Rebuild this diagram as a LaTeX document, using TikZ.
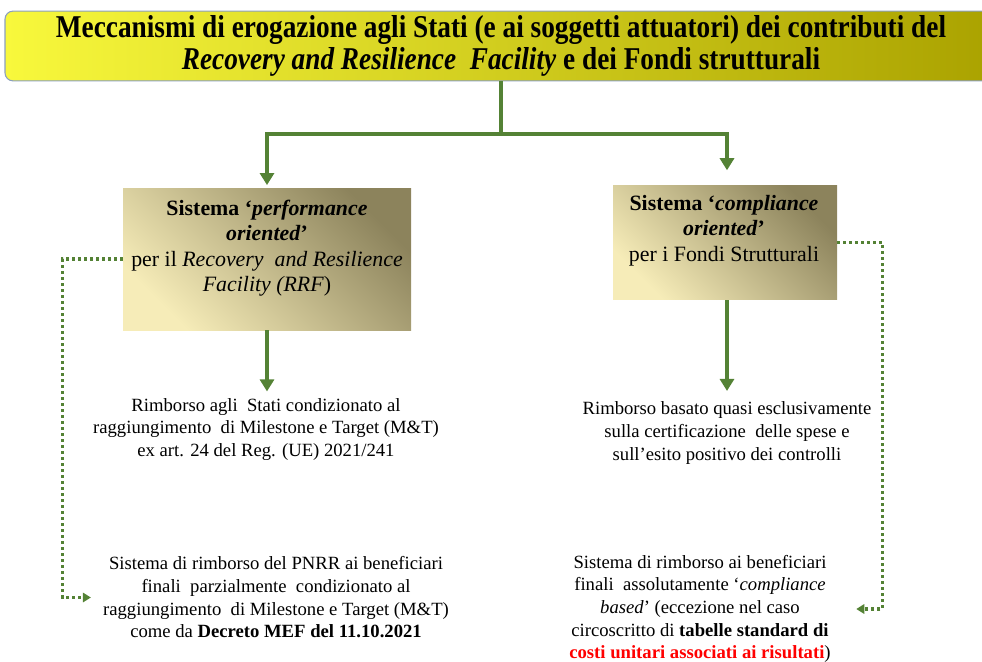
\documentclass[tikz,border=0pt]{standalone}
\usepackage{fontspec}
\setmainfont{Liberation Serif}
\newfontfamily\titlefont[FakeStretch=0.86]{Liberation Serif}
\usetikzlibrary{positioning,arrows.meta}
\definecolor{arrowgreen}{RGB}{84,130,53}
\definecolor{titleleft}{RGB}{248,248,60}
\definecolor{titlemid}{RGB}{238,234,0}
\definecolor{titleright}{RGB}{170,162,0}
\definecolor{titleedge}{RGB}{140,160,190}
\definecolor{boxlight}{RGB}{246,236,184}
\definecolor{boxdark}{RGB}{140,131,92}
\definecolor{notered}{RGB}{255,0,0}

\begin{document}
\begin{tikzpicture}[x=0.75pt, y=-0.75pt,
    titlebox/.style={rectangle, rounded corners=6pt, draw=titleedge, line width=0.8pt,
        left color=titleleft, middle color=titlemid, right color=titleright,
        minimum width=744pt, minimum height=51pt},
    sysbox/.style={rectangle, top color=boxdark, bottom color=boxlight, shading angle=-45},
    boxtext/.style={align=center, inner sep=0pt, font=\fontsize{16.4pt}{19pt}\selectfont},
    bodytext/.style={align=center, inner sep=0pt, font=\fontsize{14pt}{17pt}\selectfont},
    mainarrow/.style={draw=arrowgreen, line width=3pt, -{Triangle[width=10.5pt,length=9pt]}},
    dotarrow/.style={draw=arrowgreen, line width=2.3pt, dash pattern=on 2.3pt off 2.2pt,
        -{Triangle[width=7pt,length=6pt]}}
]
    \useasboundingbox (0,0) rectangle (982,661);

    % title
    \node[titlebox, align=center, font=\titlefont\fontsize{23.8pt}{24pt}\selectfont\bfseries] (title) at (501,46)
        {Meccanismi di erogazione agli Stati (e ai soggetti attuatori) dei contributi del\\
         \textit{Recovery and Resilience\ \ Facility} e dei Fondi strutturali};

    % the two systems
    \node[sysbox, minimum width=216pt, minimum height=106.5pt] (perf) at (267,259) {};
    \node[boxtext] (perftext) at (267,248) {\textbf{Sistema ‘\textit{performance}}\\
        \textbf{\textit{oriented}’}\\
        per il \textit{Recovery\ \ and Resilience}\\
        \textit{Facility (RRF})};
    \node[sysbox, minimum width=168pt, minimum height=86pt] (comp) at (725,242.5) {};
    \node[boxtext] (comptext) at (724,230.5) {\textbf{Sistema ‘\textit{compliance}}\\
        \textbf{\textit{oriented}’}\\
        per i Fondi Strutturali};

    % reimbursement to the States
    \node[bodytext] (ratL) at (266,429.5) {Rimborso agli\ \ Stati condizionato al\\
        raggiungimento\ \ di Milestone e Target (M\&T)\\
        ex art. 24 del Reg. (UE) 2021/241};
    \node[bodytext] (ratR) at (727,433) {Rimborso basato quasi esclusivamente\\
        sulla certificazione\ \ delle spese e\\
        sull’esito positivo dei controlli};

    % reimbursement to final beneficiaries
    \node[bodytext] (finalL) at (276,597.5) {Sistema di rimborso del PNRR ai beneficiari\\
        finali\ \ parzialmente\ \ condizionato al\\
        raggiungimento\ \ di Milestone e Target (M\&T)\\
        come da \textbf{Decreto MEF del 11.10.2021}};
    \node[bodytext] (finalR) at (700,609) {Sistema di rimborso ai beneficiari\\
        finali\ \ assolutamente ‘\textit{compliance}\\
        \textit{based}’ (eccezione nel caso\\
        circoscritto di \textbf{tabelle standard di}\\
        \textcolor{notered}{\textbf{costi unitari associati ai risultati}})};

    % connectors
    \draw[draw=arrowgreen, line width=3pt] (title.south) -- ++(0,53) coordinate (split);
    \draw[mainarrow, shorten >=2pt] (split) -| (perf.north);
    \draw[mainarrow, shorten >=11pt] (split) -| ([xshift=1.5pt]comp.north);
    \draw[mainarrow, shorten >=5pt] (perf.south) -- (perf.south |- ratL.north);
    \draw[mainarrow, shorten >=8pt] ([xshift=1.5pt]comp.south) -- ([xshift=1.5pt]comp.south |- ratR.north);
    \draw[dotarrow, shorten >=9pt] (perf.west) -- ++(-45pt,0) |- (finalL.west);
    \draw[dotarrow, shorten >=19pt] (comp.east) -- ++(34pt,0) |- (finalR.east);
\end{tikzpicture}
\end{document}
